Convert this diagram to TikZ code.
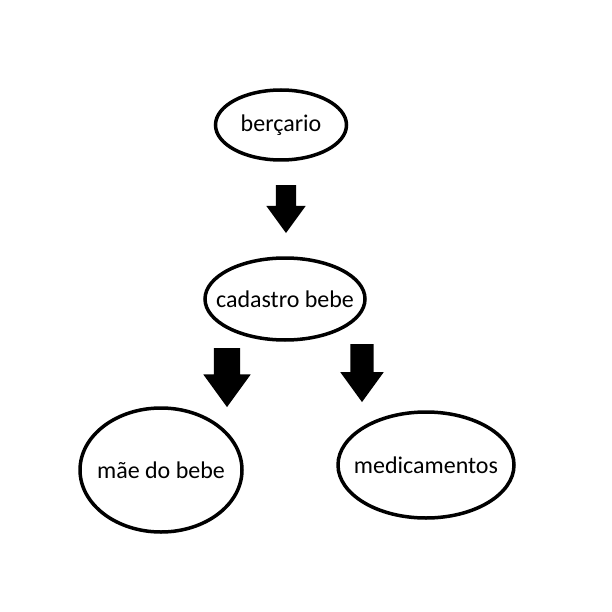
\documentclass[tikz,border=0pt]{standalone}
\usepackage{fontspec}
\setmainfont{Carlito}
\usetikzlibrary{shapes.geometric,shapes.arrows}

\newcommand{\ctrtext}[1]{\makebox[0pt]{#1}}

\begin{document}
\begin{tikzpicture}[
  x=1pt, y=-1pt,
  entity/.style={draw, ellipse, line width=3.5pt, inner sep=0pt,
    font=\fontsize{24}{28}\selectfont},
  blockarr/.style={single arrow, fill=black, draw=none, shape border rotate=270,
    inner ysep=0pt, single arrow head indent=0pt, single arrow tip angle=72},
]
\useasboundingbox[fill=white] (0,0) rectangle (612,612);

\node (bercario) [entity, minimum width=131pt, minimum height=70pt] at (281,125) {\ctrtext{berçario}};
\node (cadastro) [entity, minimum width=160pt, minimum height=82pt] at (285,299) {\ctrtext{cadastro bebe}};
\node (mae) [entity, minimum width=162pt, minimum height=124pt] at (161,470) {\ctrtext{mãe do bebe}};
\node (medic) [entity, minimum width=176pt, minimum height=106pt] at (426,465) {\ctrtext{medicamentos}};

\node (arr1) [blockarr, inner xsep=10pt, minimum height=48pt, single arrow head extend=9.5pt] at (286,202) {};
\node (arr2) [blockarr, inner xsep=13pt, minimum height=59pt, single arrow head extend=10.5pt] at (227,368.5) {};
\node (arr3) [blockarr, inner xsep=11.5pt, minimum height=58pt, single arrow head extend=10pt] at (362,365) {};

\end{tikzpicture}
\end{document}
